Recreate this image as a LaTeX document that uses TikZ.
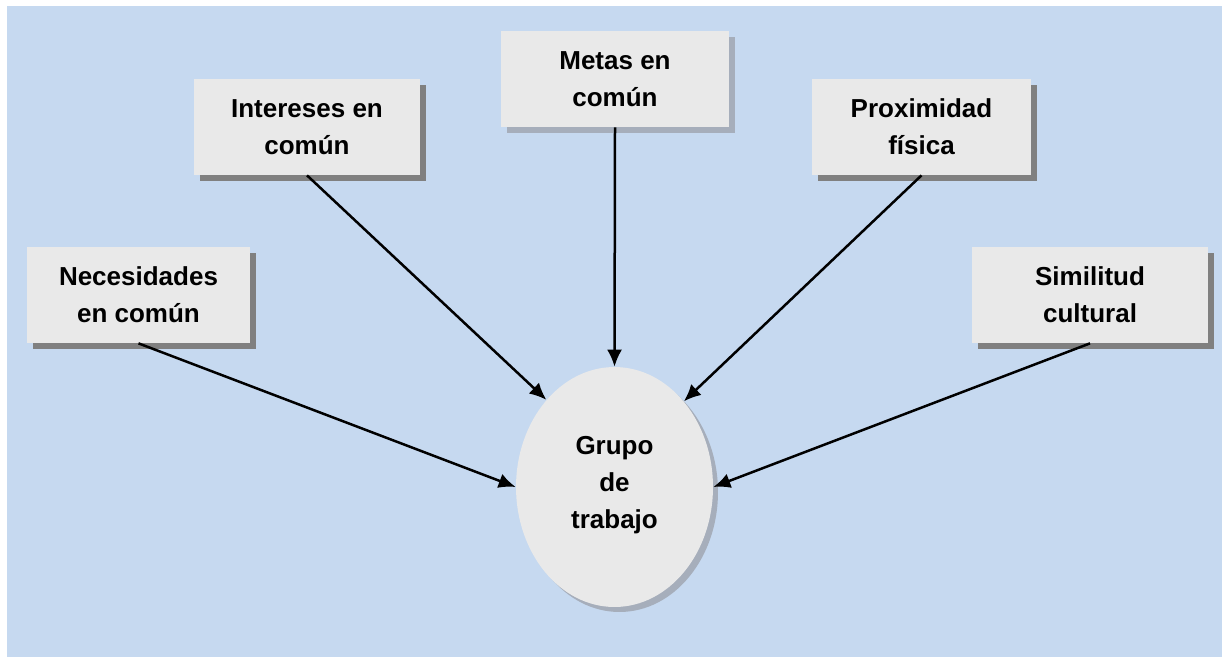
\documentclass[tikz,border=0pt]{standalone}
\usepackage{fontspec}
\setmainfont{Liberation Sans}
\usetikzlibrary{shapes.geometric,shadows,arrows.meta}

\begin{document}
\begin{tikzpicture}[x=0.02cm,y=-0.02cm,
	caja/.style={rectangle,fill=boxgray,minimum height=1.92cm,inner sep=0pt,align=center,
		font=\bfseries\fontsize{14.8}{21}\selectfont,
		drop shadow={shadow xshift=0.12cm,shadow yshift=-0.12cm,fill=shadowgray,opacity=1}},
	flecha/.style={-{Latex[length=0.34cm,width=0.3cm]},line width=0.05cm}]
	\definecolor{bgblue}{RGB}{198,217,240}
	\definecolor{boxgray}{RGB}{233,233,233}
	\definecolor{shadowgray}{RGB}{128,128,128}
	\definecolor{shadowblue}{RGB}{166,174,187}
	
	\useasboundingbox (0,0) rectangle (1222,657);
	\fill[bgblue] (7,6) rectangle (1222,657);
	
	\node[caja,minimum width=4.46cm] (nec) at (138.5,295) {Necesidades\\en común};
	\node[caja,minimum width=4.52cm] (int) at (307,127) {Intereses en\\común};
	\node[caja,minimum width=4.56cm,drop shadow={shadow xshift=0.12cm,shadow yshift=-0.12cm,fill=shadowblue,opacity=1}] (met) at (615,79) {Metas en\\común};
	\node[caja,minimum width=4.38cm] (prox) at (921.5,127) {Proximidad\\física};
	\node[caja,minimum width=4.72cm] (sim) at (1090,295) {Similitud\\cultural};
	
	\node[ellipse,fill=boxgray,minimum width=3.94cm,minimum height=4.8cm,inner sep=0pt,align=center,
		font=\bfseries\fontsize{14.8}{21}\selectfont,
		drop shadow={shadow xshift=0.1cm,shadow yshift=-0.1cm,fill=shadowblue,opacity=1}] (grupo) at (614.5,487) {Grupo\\de\\trabajo\\[-0.54cm]};
	
	\draw[flecha] (nec.south) -- (grupo.west);
	\draw[flecha] (int.south) -- (grupo.128);
	\draw[flecha] (met.south) -- (grupo.north);
	\draw[flecha] (prox.south) -- (grupo.51);
	\draw[flecha] (sim.south) -- (grupo.east);
	
\end{tikzpicture}
\end{document}
